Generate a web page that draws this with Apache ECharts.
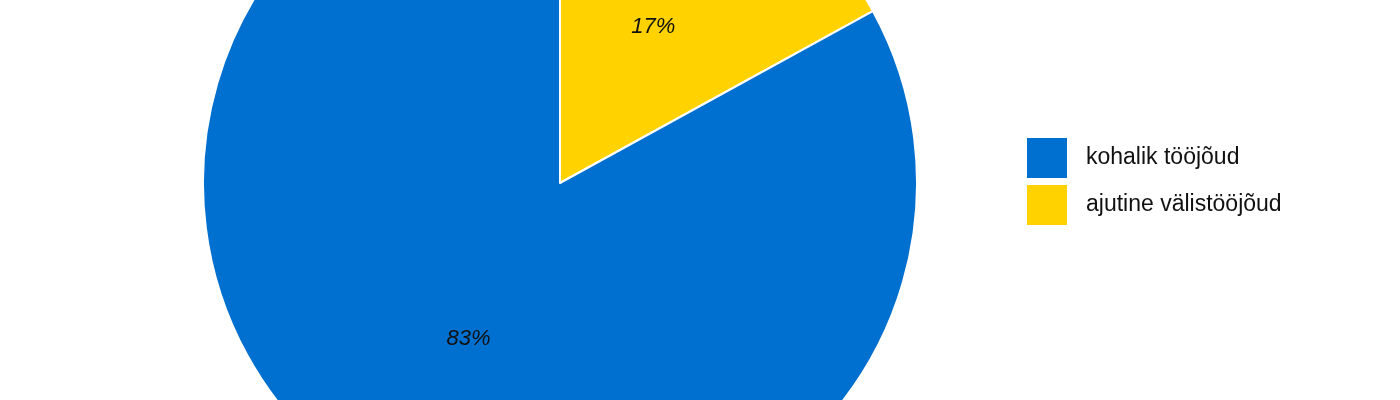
<!DOCTYPE html>
<html>
<head>
<meta charset="utf-8">
<script src="https://cdn.jsdelivr.net/npm/echarts@6/dist/echarts.min.js"></script>
<style>
html,body{margin:0;padding:0;background:#fff;}
#chart{width:1400px;height:400px;}
</style>
</head>
<body>
<div id="chart"></div>
<script>
const categories = ['ajutine välistööjõud', 'kohalik tööjõud'];
const values = [17, 83];
const legendOrder = ['kohalik tööjõud', 'ajutine välistööjõud'];
const colors = {'kohalik tööjõud': '#0070D0', 'ajutine välistööjõud': '#FFD200'};

const chart = echarts.init(document.getElementById('chart'), null, {renderer: 'canvas'});
chart.setOption({
  animation: false,
  backgroundColor: '#ffffff',
  legend: {
    orient: 'vertical',
    left: 1027,
    top: 138,
    padding: 0,
    itemWidth: 40,
    itemHeight: 40,
    itemGap: 7,
    icon: 'rect',
    itemStyle: {borderWidth: 0},
    data: legendOrder,
    textStyle: {
      fontFamily: 'Liberation Sans, Arial, sans-serif',
      fontSize: 23,
      color: '#111111',
      padding: [4, 0, 0, 14]
    }
  },
  series: [{
    type: 'pie',
    center: [560, 183],
    radius: 357,
    startAngle: 90,
    clockwise: true,
    avoidLabelOverlap: false,
    itemStyle: {borderColor: '#ffffff', borderWidth: 2},
    label: {
      position: 'inside',
      formatter: '{d}%',
      fontFamily: 'Liberation Sans, Arial, sans-serif',
      fontSize: 22,
      fontStyle: 'italic',
      color: '#111111',
      padding: [3, 0, 0, 2]
    },
    labelLine: {show: false},
    emphasis: {disabled: true},
    data: categories.map((c, i) => ({name: c, value: values[i], itemStyle: {color: colors[c]}}))
  }]
});
</script>
</body>
</html>
